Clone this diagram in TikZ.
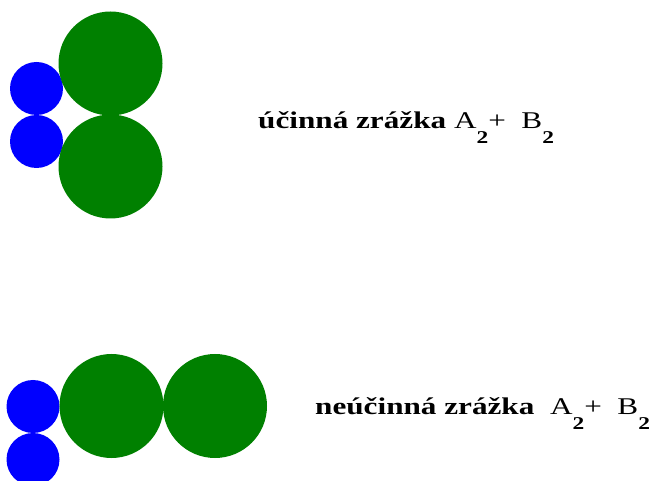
\documentclass[tikz,border=0pt]{standalone}
\usepackage{fontspec}
\setmainfont{Liberation Serif}
\newfontfamily\lblfont[FakeStretch=1.3]{Liberation Serif}
\newcommand\lowtwo{\raisebox{-15pt}{\fontsize{18}{18}\selectfont\bfseries 2}}
\usetikzlibrary{positioning}
\definecolor{cBlue} {HTML}{0000FF}
\definecolor{cGreen}{HTML}{008000}

\begin{document}
\begin{tikzpicture}[x=1pt, y=-1pt,
      small/.style = {circle, fill=cBlue, inner sep=0pt, minimum size=53pt},
      big/.style   = {circle, fill=cGreen, inner sep=0pt, minimum size=104pt},
      lbl/.style   = {anchor=base west, inner sep=0pt, font=\lblfont\fontsize{24}{28}\selectfont} ]
    \useasboundingbox (0,0) rectangle (654,481);
    % effective collision
    \node[small] (a1) at (36.5,88.5) {};
    \node[small] (a2) at (36.5,141.5) {};
    \node[big] (b1) at (110.5,63.5) {};
    \node[big] (b2) at (110.5,166.5) {};
    \node[lbl] (t1) at (258,129) {\textbf{účinná zrážka} A\lowtwo+\ \ B\lowtwo};
    % ineffective collision
    \node[small] (c1) at (33,406.5) {};
    \node[small] (c2) at (33,459.5) {};
    \node[big] (d1) at (111.5,406) {};
    \node[big] (d2) at (215,406) {};
    \node[lbl] (t2) at (315,414) {\textbf{neúčinná zrážka}\ \ A\lowtwo+\ \ B\lowtwo};
  \end{tikzpicture}
\end{document}
